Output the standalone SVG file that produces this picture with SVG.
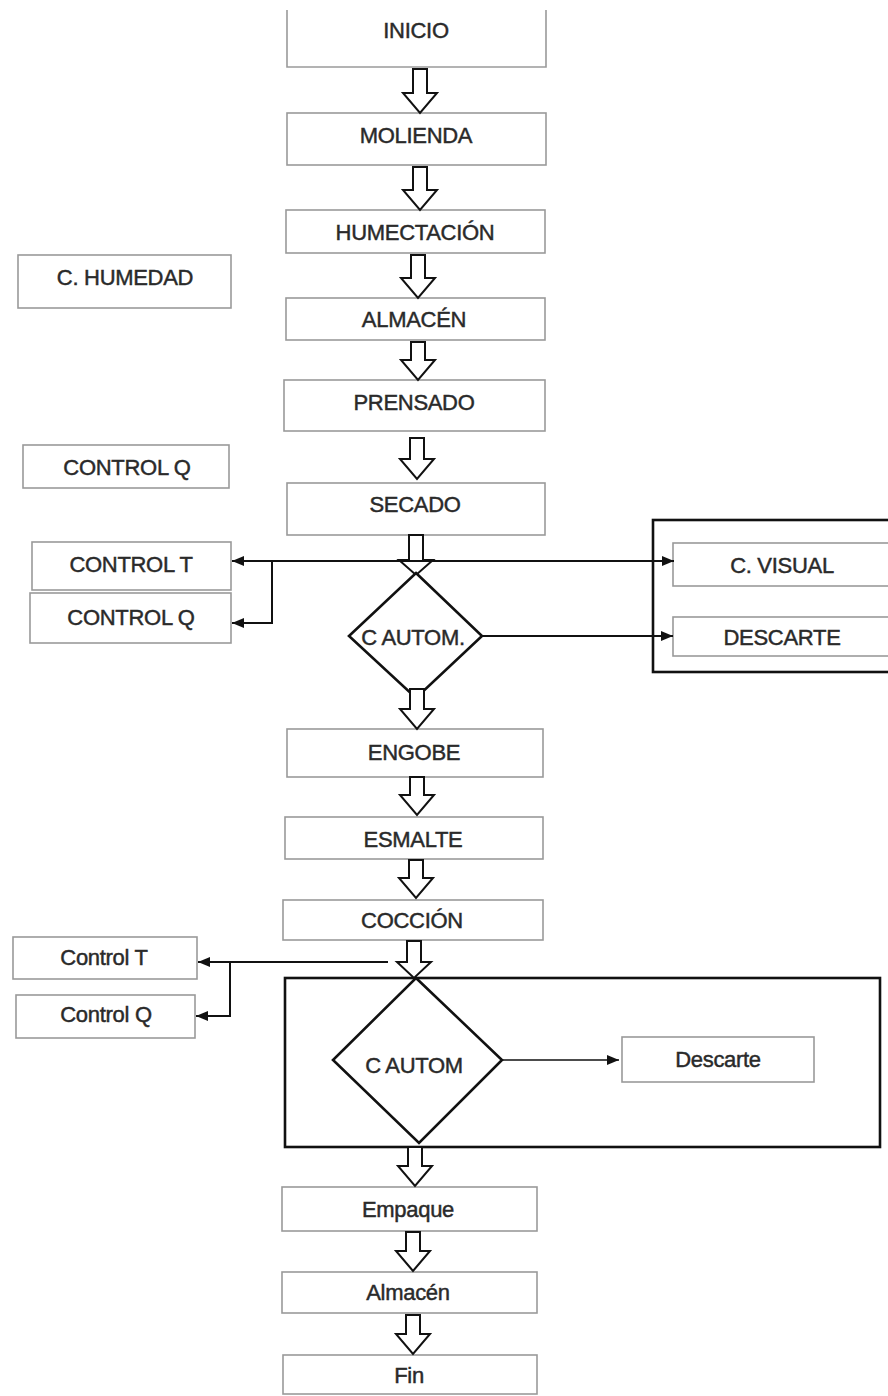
<svg xmlns="http://www.w3.org/2000/svg" width="888" height="1396" viewBox="0 0 888 1396">
<style>
.box{fill:#fff;stroke:#9a9a9a;stroke-width:1.6}
.frame{fill:none;stroke:#111;stroke-width:2.6}
.dia{fill:#fff;stroke:#111;stroke-width:2.6}
.t{font-family:"Liberation Sans",Arial,sans-serif;font-size:22px;fill:#2a2a2a;stroke:#2a2a2a;stroke-width:0.45;text-anchor:middle;letter-spacing:-0.3px}
.ha{fill:#fff;stroke:#111;stroke-width:2;stroke-linejoin:miter}
.ln{fill:none;stroke:#111;stroke-width:2}
.ln2{fill:none;stroke:#111;stroke-width:1.5}
</style>
<defs>
<marker id="ah" viewBox="0 0 12 10" refX="12" refY="5" markerWidth="12" markerHeight="10" markerUnits="userSpaceOnUse" orient="auto">
<path d="M0 0 L12 5 L0 10 Z" fill="#111"/>
</marker>
</defs>
<rect width="888" height="1396" fill="#fff"/>

<g id="frame-1"><rect class="frame" x="653" y="520" width="240" height="152"/></g>
<g id="frame-2"><rect class="frame" x="285" y="978" width="595" height="169"/></g>

<g id="inicio"><path class="box" d="M287 10 V67 H546 V10"/><text class="t" x="416" y="38">INICIO</text></g>
<g id="molienda"><rect class="box" x="287" y="113" width="259" height="52"/><text class="t" x="416" y="143">MOLIENDA</text></g>
<g id="humectacion"><rect class="box" x="286" y="210" width="259" height="43"/><text class="t" x="415" y="240">HUMECTACIÓN</text></g>
<g id="almacen1"><rect class="box" x="286" y="298" width="259" height="42"/><text class="t" x="414" y="327">ALMACÉN</text></g>
<g id="prensado"><rect class="box" x="284" y="380" width="261" height="51"/><text class="t" x="414" y="410">PRENSADO</text></g>
<g id="secado"><rect class="box" x="287" y="483" width="258" height="52"/><text class="t" x="415" y="512">SECADO</text></g>
<g id="c-humedad"><rect class="box" x="18" y="255" width="213" height="53"/><text class="t" x="125" y="285">C. HUMEDAD</text></g>
<g id="control-q1"><rect class="box" x="23" y="445" width="206" height="43"/><text class="t" x="127" y="475">CONTROL Q</text></g>
<g id="control-t1"><rect class="box" x="32" y="542" width="199" height="48"/><text class="t" x="131" y="572">CONTROL T</text></g>
<g id="control-q2"><rect class="box" x="30" y="593" width="201" height="50"/><text class="t" x="131" y="625">CONTROL Q</text></g>
<g id="c-visual"><rect class="box" x="673" y="543" width="220" height="43"/><text class="t" x="782" y="573">C. VISUAL</text></g>
<g id="descarte1"><rect class="box" x="673" y="617" width="220" height="39"/><text class="t" x="782" y="645">DESCARTE</text></g>
<g id="engobe"><rect class="box" x="287" y="729" width="256" height="48"/><text class="t" x="414" y="760">ENGOBE</text></g>
<g id="esmalte"><rect class="box" x="285" y="817" width="258" height="42"/><text class="t" x="413" y="847">ESMALTE</text></g>
<g id="coccion"><rect class="box" x="283" y="900" width="260" height="40"/><text class="t" x="412" y="928">COCCIÓN</text></g>
<g id="control-t2"><rect class="box" x="13" y="937" width="184" height="42"/><text class="t" x="104" y="965">Control T</text></g>
<g id="control-q3"><rect class="box" x="16" y="995" width="179" height="43"/><text class="t" x="106" y="1022">Control Q</text></g>
<g id="descarte2"><rect class="box" x="622" y="1037" width="192" height="45"/><text class="t" x="718" y="1067">Descarte</text></g>
<g id="empaque"><rect class="box" x="282" y="1187" width="255" height="44"/><text class="t" x="408" y="1217">Empaque</text></g>
<g id="almacen2"><rect class="box" x="282" y="1272" width="255" height="41"/><text class="t" x="408" y="1300">Almacén</text></g>
<g id="fin"><rect class="box" x="283" y="1355" width="254" height="39"/><text class="t" x="409" y="1383">Fin</text></g>

<g id="connectors">
<path class="ha" d="M413 69 H427 V93 H437 L420 113 L403 93 H413 Z"/>
<path class="ha" d="M413 167 H427 V190 H437 L420 210 L403 190 H413 Z"/>
<path class="ha" d="M411 255 H425 V278 H435 L418 298 L401 278 H411 Z"/>
<path class="ha" d="M411 342 H425 V360 H435 L418 380 L401 360 H411 Z"/>
<path class="ha" d="M410 438 H424 V459 H434 L417 479 L400 459 H410 Z"/>
<path class="ha" d="M409 535 H423 V560 H433 L416 575 L399 560 H409 Z"/>
<path class="ha" d="M410 777 H424 V795 H434 L417 815 L400 795 H410 Z"/>
<path class="ha" d="M409 860 H423 V878 H433 L416 898 L399 878 H409 Z"/>
<path class="ha" d="M407 941 H421 V962 H431 L414 978 L397 962 H407 Z"/>
<path class="ha" d="M408 1147 H422 V1166 H432 L415 1186 L398 1166 H408 Z"/>
<path class="ha" d="M406 1232 H420 V1251 H430 L413 1271 L396 1251 H406 Z"/>
<path class="ha" d="M406 1315 H420 V1334 H430 L413 1354 L396 1334 H406 Z"/>
<path class="ln" d="M416 561 H232" marker-end="url(#ah)"/>
<path class="ln" d="M272 561 V623 H232" marker-end="url(#ah)"/>
<path class="ln" d="M416 561 H674" marker-end="url(#ah)"/>
<path class="ln" d="M482 636 H673" marker-end="url(#ah)"/>
<path class="ln" d="M388 962 H198" marker-end="url(#ah)"/>
<path class="ln" d="M230 962 V1016 H196" marker-end="url(#ah)"/>
<path class="ln2" d="M502 1060 H619" marker-end="url(#ah)"/>
</g>

<g id="c-autom-1"><path class="dia" d="M416 573 L482 636 L416 698 L349 636 Z"/><text class="t" x="413" y="645">C AUTOM.</text></g>
<path class="ha" d="M410 689 H424 V709 H434 L417 729 L400 709 H410 Z"/>
<g id="c-autom-2"><path class="dia" d="M416 978 L502 1060 L419 1143 L333 1060 Z"/><text class="t" x="414" y="1073">C AUTOM</text></g>
</svg>
